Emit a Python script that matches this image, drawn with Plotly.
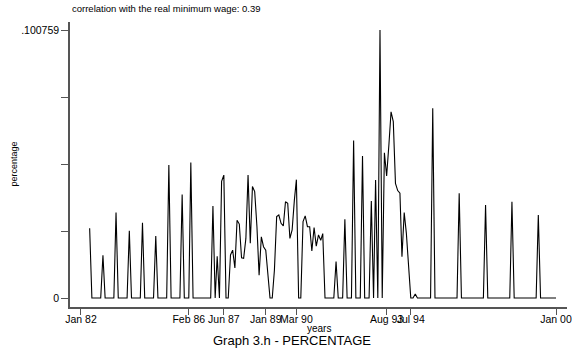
import pandas as pd
import plotly.graph_objects as go

# monthly series, May 1982 .. Jan 2000
start_month = "1982-05-01"
end_month = "2000-01-01"
percentage = [
    0.0262, 0, 0, 0, 0, 0,                      # May-Oct 82
    0.0161, 0, 0, 0, 0, 0,                      # Nov 82 - Apr 83
    0.0321, 0, 0, 0, 0, 0,                      # May-Oct 83
    0.0253, 0, 0, 0, 0, 0,                      # Nov 83 - Apr 84
    0.0283, 0, 0, 0, 0, 0,                      # May-Oct 84
    0.0233, 0, 0, 0, 0, 0,                      # Nov 84 - Apr 85
    0.0500, 0, 0, 0, 0, 0,                      # May-Oct 85
    0.0389, 0, 0, 0,                            # Nov 85 - Feb 86
    0.0509, 0, 0, 0, 0, 0, 0, 0, 0, 0,          # Mar-Dec 86
    0.0346, 0, 0.0157, 0, 0.0439, 0.0462,       # Jan-Jun 87
    0, 0, 0.0162, 0.0180, 0.0113, 0.0292,       # Jul-Dec 87
    0.0278, 0.0151, 0.0149, 0.0224, 0.0462, 0.0206,   # Jan-Jun 88
    0.0419, 0.0400, 0.0268, 0.0086, 0.0230, 0.0193,   # Jul-Dec 88
    0.0180, 0.0080, 0, 0, 0.0105, 0.0306,       # Jan-Jun 89
    0.0312, 0.0281, 0.0271, 0.0362, 0.0356, 0.0224,   # Jul-Dec 89
    0.0256, 0.0368, 0.0445, 0, 0, 0.0287,       # Jan-Jun 90
    0.0309, 0.0268, 0.0268, 0.0177, 0.0265, 0.0195,   # Jul-Dec 90
    0.0237, 0.0217, 0.0242, 0, 0, 0,            # Jan-Jun 91
    0, 0, 0.0137, 0, 0, 0,                      # Jul-Dec 91
    0.0296, 0, 0, 0, 0.0592, 0,                 # Jan-Jun 92
    0, 0, 0.0534, 0, 0, 0,                      # Jul-Dec 92
    0.0365, 0, 0.0444, 0, 0.100759, 0,          # Jan-Jun 93
    0.0546, 0.0459, 0.0575, 0.0700, 0.0663, 0.0431,   # Jul-Dec 93
    0.0404, 0.0394, 0.0155, 0.0321, 0.0243, 0.0118,   # Jan-Jun 94
    0, 0, 0.0015, 0, 0, 0,                      # Jul-Dec 94
    0, 0, 0, 0, 0.0713, 0,                      # Jan-Jun 95
    0, 0, 0, 0, 0, 0,                           # Jul-Dec 95
    0, 0, 0, 0, 0.0394, 0,                      # Jan-Jun 96
    0, 0, 0, 0, 0, 0,                           # Jul-Dec 96
    0, 0, 0, 0, 0.0350, 0,                      # Jan-Jun 97
    0, 0, 0, 0, 0, 0,                           # Jul-Dec 97
    0, 0, 0, 0, 0.0362, 0,                      # Jan-Jun 98
    0, 0, 0, 0, 0, 0,                           # Jul-Dec 98
    0, 0, 0, 0, 0.0312, 0,                      # Jan-Jun 99
    0, 0, 0, 0, 0, 0,                           # Jul-Dec 99
    0,                                          # Jan 00
]

x_tick_dates = ["1982-01-01", "1986-02-01", "1987-06-01", "1989-01-01",
                "1990-03-01", "1993-08-01", "1994-07-01", "2000-01-01"]
x_tick_labels = ["Jan 82", "Feb 86", "Jun 87", "Jan 89", "Mar 90",
                 "Aug 93", "Jul 94", "Jan 00"]
y_max = 0.100759
y_tick_vals = [0, y_max / 4, y_max / 2, 3 * y_max / 4, y_max]
y_tick_labels = ["0", "", "", "", ".100759"]

months = pd.date_range(start_month, end_month, freq="MS")

fig = go.Figure()
fig.add_trace(go.Scatter(x=months, y=percentage, mode="lines",
                         line=dict(color="black", width=1.1), showlegend=False))

font = "Liberation Sans, Arial, sans-serif"
axis_col = "#555555"
fig.update_layout(
    width=572, height=348,
    margin=dict(l=70, r=5, t=22, b=41, autoexpand=False),
    paper_bgcolor="white", plot_bgcolor="white",
    font=dict(family=font, color="black", size=10),
    xaxis=dict(range=["1981-08-02", "2000-06-01"], tickmode="array",
               tickvals=x_tick_dates, ticktext=x_tick_labels,
               tickangle=0, automargin=False, ticklabelstandoff=-4,
               showgrid=False, zeroline=False, showline=True,
               linecolor=axis_col, linewidth=1.5, ticks="outside",
               ticklen=6, tickcolor=axis_col, tickwidth=1,
               tickfont=dict(size=10.5, family=font)),
    yaxis=dict(range=[-0.00338, 0.10377], tickmode="array",
               tickvals=y_tick_vals, ticktext=y_tick_labels,
               automargin=False,
               showgrid=False, zeroline=False, showline=True,
               linecolor=axis_col, linewidth=1.5, ticks="outside",
               ticklen=7, tickcolor=axis_col, tickwidth=1,
               tickfont=dict(size=10.5, family=font)),
    annotations=[
        dict(text="correlation with the real minimum wage: 0.39",
             xref="paper", yref="paper", x=0, y=1, xanchor="left",
             yanchor="bottom", yshift=6, showarrow=False,
             font=dict(size=9.5, family=font)),
        dict(text="percentage", xref="paper", yref="paper", x=0, y=0.5,
             xanchor="center", yanchor="middle", xshift=-57, textangle=-90,
             showarrow=False, font=dict(size=9, family=font)),
        dict(text="years", xref="paper", yref="paper", x=0.5, y=0,
             xanchor="center", yanchor="middle", yshift=-21,
             showarrow=False, font=dict(size=10, family=font)),
        dict(text="Graph 3.h - PERCENTAGE", xref="paper", yref="paper",
             x=0.5, y=0, xanchor="center", yanchor="middle",
             xshift=-27, yshift=-33, showarrow=False,
             font=dict(size=13, family=font)),
    ],
)

fig.write_html("out.html")
